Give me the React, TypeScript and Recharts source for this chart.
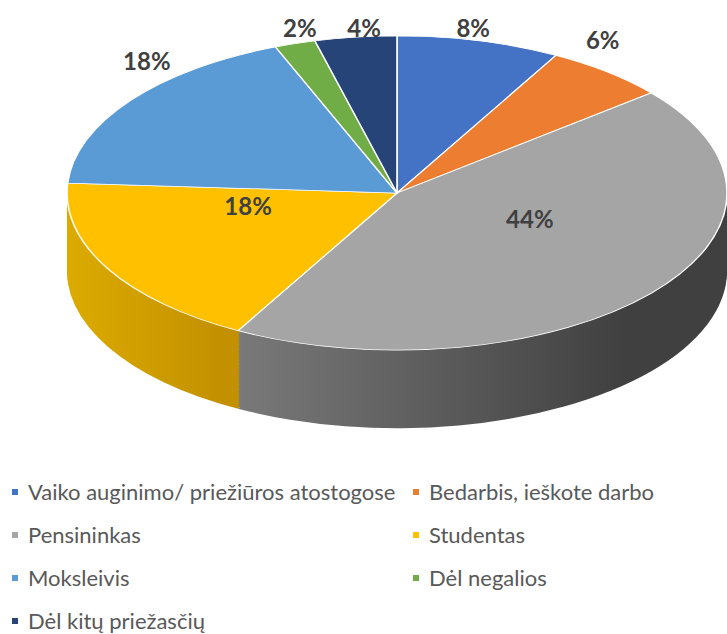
import { PieChart, Pie, Cell } from "recharts"

// values (start at 12 o'clock, clockwise)
const categories = [
  "Vaiko auginimo/ priežiūros atostogose",
  "Bedarbis, ieškote darbo",
  "Pensininkas",
  "Studentas",
  "Moksleivis",
  "Dėl negalios",
  "Dėl kitų priežasčių",
]
const shares = [8, 6, 44, 18, 18, 2, 4]
const percentLabels = ["8%", "6%", "44%", "18%", "18%", "2%", "4%"]

const data = categories.map((name, i) => ({ name, value: shares[i] }))

// Office palette for the top face
const TOP = ["#4472c4", "#ed7d31", "#a5a5a5", "#ffc000", "#5b9bd5", "#70ad47", "#264478"]
// side shading: [x1, x2, colour at x1, colour at x2]
const SIDE: [number, number, string, string][] = [
  [67, 727, "#34589a", "#2a4780"],
  [67, 727, "#c0621f", "#a0501a"],
  [205, 625, "#7e7e7e", "#404040"],
  [67, 225, "#dcab00", "#c29000"],
  [67, 727, "#3f7ab0", "#336596"],
  [67, 727, "#57883a", "#466e2f"],
  [67, 727, "#1c3359", "#142645"],
]
// where Excel put each label: radius factor and angle nudge (deg, clockwise)
const LABEL_POS: [number, number][] = [
  [1.076, -2],
  [1.157, -7],
  [0.433, -18],
  [0.458, 19],
  [1.133, 12],
  [1.094, 2.4],
  [1.058, 1.8],
]

const W = 727
const R = 330
const S = 0.476 // vertical squash of the tilted disc
const CX = 397
const CY = 405.5
const DEPTH = 164
const layers = Array.from({ length: 41 }, (_, k) => DEPTH - k * 4)
const RAD = Math.PI / 180

function renderLabel(props: any) {
  const { cx, cy, midAngle, index } = props
  const [f, da] = LABEL_POS[index]
  const theta = (90 - midAngle + da) * RAD
  const x = cx + f * R * Math.sin(theta)
  const y = cy - f * R * Math.cos(theta)
  return (
    <text
      key={`lbl-${index}`}
      transform={`translate(${x},${y}) scale(1,${1 / S})`}
      x={0}
      y={0}
      textAnchor="middle"
      dominantBaseline="central"
      fill="#404040"
      fontSize={24}
      fontWeight={700}
      fontFamily="Lato, 'Open Sans', sans-serif"
    >
      {percentLabels[index]}
    </text>
  )
}

export default function App() {
  return (
    <div style={{ position: "relative", width: W, height: 634, background: "#fff", overflow: "hidden" }}>
      <style>{"body{margin:0}"}</style>
      <div
        style={{
          position: "absolute",
          left: 0,
          top: 0,
          transform: `scaleY(${S})`,
          transformOrigin: "top left",
        }}
      >
        <PieChart width={W} height={CY + R + DEPTH + 6} margin={{ top: 0, right: 0, bottom: 0, left: 0 }}>
          <defs>
            {SIDE.map(([x1, x2, c1, c2], i) => (
              <linearGradient key={i} id={`side-${i}`} gradientUnits="userSpaceOnUse" x1={x1} y1={0} x2={x2} y2={0}>
                <stop offset="0" stopColor={c1} />
                <stop offset="1" stopColor={c2} />
              </linearGradient>
            ))}
          </defs>
          {layers.map((d) => (
            <Pie
              key={`side-${d}`}
              data={data}
              dataKey="value"
              nameKey="name"
              cx={CX}
              cy={CY + d}
              outerRadius={R}
              startAngle={90}
              endAngle={-270}
              stroke="none"
              label={false}
              labelLine={false}
              legendType="none"
              isAnimationActive={false}
            >
              {data.map((_, i) => (
                <Cell key={i} fill={`url(#side-${i})`} />
              ))}
            </Pie>
          ))}
          <Pie
            data={data}
            dataKey="value"
            nameKey="name"
            cx={CX}
            cy={CY}
            outerRadius={R}
            startAngle={90}
            endAngle={-270}
            stroke="#ffffff"
            strokeWidth={1.6}
            label={renderLabel}
            labelLine={false}
            isAnimationActive={false}
          >
            {data.map((_, i) => (
              <Cell key={i} fill={TOP[i]} />
            ))}
          </Pie>
        </PieChart>
      </div>

      <div
        style={{
          position: "absolute",
          left: 12,
          top: 470,
          display: "grid",
          gridTemplateColumns: "401px 300px",
          gridAutoRows: "43px",
          alignItems: "center",
          fontFamily: "Lato, 'Open Sans', sans-serif",
          fontSize: 22,
          color: "#595959",
        }}
      >
        {categories.map((name, i) => (
          <div key={name} style={{ display: "flex", alignItems: "center", whiteSpace: "nowrap" }}>
            <span style={{ width: 6, height: 6, background: TOP[i], marginRight: 10, flex: "none" }} />
            <span>{name}</span>
          </div>
        ))}
      </div>
    </div>
  )
}
